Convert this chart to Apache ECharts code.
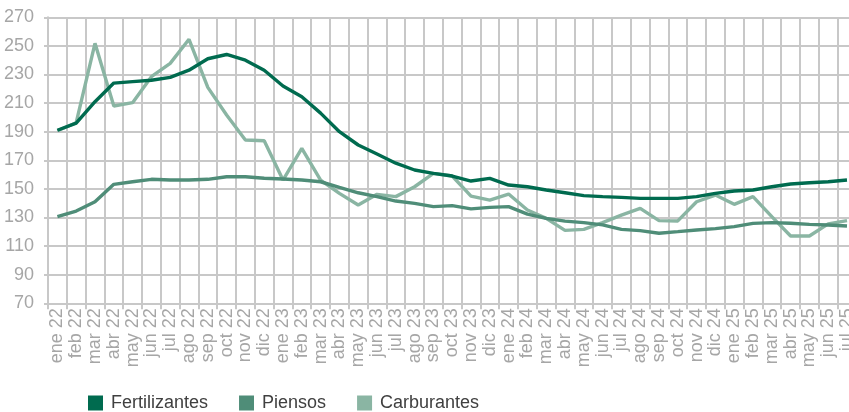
<!DOCTYPE html>
<html>
<head>
<meta charset="utf-8">
<script src="https://cdn.jsdelivr.net/npm/echarts@6/dist/echarts.min.js"></script>
<style>
html,body{margin:0;padding:0;background:#fff;overflow:hidden;width:849px;height:412px;}
#c{width:860px;height:412px;}
</style>
</head>
<body>
<div id="c"></div>
<script>
const categories = ["ene 22","feb 22","mar 22","abr 22","may 22","jun 22","jul 22","ago 22","sep 22","oct 22","nov 22","dic 22",
"ene 23","feb 23","mar 23","abr 23","may 23","jun 23","jul 23","ago 23","sep 23","oct 23","nov 23","dic 23",
"ene 24","feb 24","mar 24","abr 24","may 24","jun 24","jul 24","ago 24","sep 24","oct 24","nov 24","dic 24",
"ene 25","feb 25","mar 25","abr 25","may 25","jun 25","jul 25"];

const fertilizantes = [191,196,211,224,225,226,228,233,241,244,240,233,
222,214.5,203,190,180.7,174.4,168,163.2,160.9,159,155.5,157.4,
152.7,151.5,149.2,147.3,145.3,144.6,144.1,143.4,143.4,143.4,144.6,146.9,
148.5,149.2,151.5,153.4,154.3,155,156.2];

const piensos = [130.6,134.5,141,153.2,155,156.7,156.2,156.2,156.7,158.5,158.5,157.4,
156.9,156.2,155,151.1,147.3,144.6,141.5,139.9,137.6,138.3,136,137.1,
137.6,132.4,129.4,127.5,126.4,124.8,121.7,120.8,119,120.1,121.3,122.2,
123.6,125.9,126.4,126,125.2,124.8,124.1];

const carburantes = [190.7,196.3,251.8,208,210.3,228.5,237.8,254.6,221,201.7,184.2,183.7,
156.2,178.4,156.2,146.9,138.7,146.2,144.6,151.5,160.9,159,145,142.2,
146.4,135.2,129.4,121,121.7,126.4,131.7,136.4,127.8,127.6,141,145.7,
139.2,144.6,130.6,117.1,117.1,125.5,127.8];

const yTicks = {min:70, max:270, interval:20};

const gridColor = '#c8c8c8';
const labelColor = '#a6a6a6';

const chart = echarts.init(document.getElementById('c'), null, {renderer:'canvas'});
chart.setOption({
  animation:false,
  backgroundColor:'#ffffff',
  textStyle:{fontFamily:'Liberation Sans, Arial, sans-serif'},
  grid:{left:48, right:3.6, top:17.3, bottom:108.7, containLabel:false},
  legend:{
    left:88, top:394, padding:0,
    itemWidth:15, itemHeight:15, itemGap:31,
    icon:'rect',
    textStyle:{fontSize:18, color:'#404040', fontFamily:'Liberation Sans, Arial, sans-serif', padding:[0,0,0,3]},
    data:['Fertilizantes','Piensos','Carburantes']
  },
  xAxis:{
    type:'category',
    data:categories,
    boundaryGap:true,
    axisLine:{show:true, lineStyle:{color:gridColor, width:2}},
    axisTick:{show:true, length:6, lineStyle:{color:gridColor, width:2}},
    splitLine:{show:true, lineStyle:{color:gridColor, width:2}},
    axisLabel:{interval:0, rotate:90, fontSize:18, color:labelColor, margin:5}
  },
  yAxis:{
    type:'value',
    min:yTicks.min, max:yTicks.max, interval:yTicks.interval,
    axisLine:{show:true, lineStyle:{color:gridColor, width:2}},
    axisTick:{show:true, length:4, lineStyle:{color:gridColor, width:2}},
    splitLine:{show:true, lineStyle:{color:gridColor, width:2}},
    axisLabel:{fontSize:18, color:labelColor, margin:14}
  },
  series:[
    {name:'Fertilizantes', type:'line', data:fertilizantes, symbol:'none', smooth:false,
     lineStyle:{color:'#006b4f', width:3.4}, itemStyle:{color:'#006b4f'}, z:4},
    {name:'Piensos', type:'line', data:piensos, symbol:'none',
     lineStyle:{color:'#4f8d78', width:3.4}, itemStyle:{color:'#4f8d78'}, z:3},
    {name:'Carburantes', type:'line', data:carburantes, symbol:'none',
     lineStyle:{color:'#8ab5a3', width:3.4}, itemStyle:{color:'#8ab5a3'}, z:2}
  ]
});
</script>
</body>
</html>
